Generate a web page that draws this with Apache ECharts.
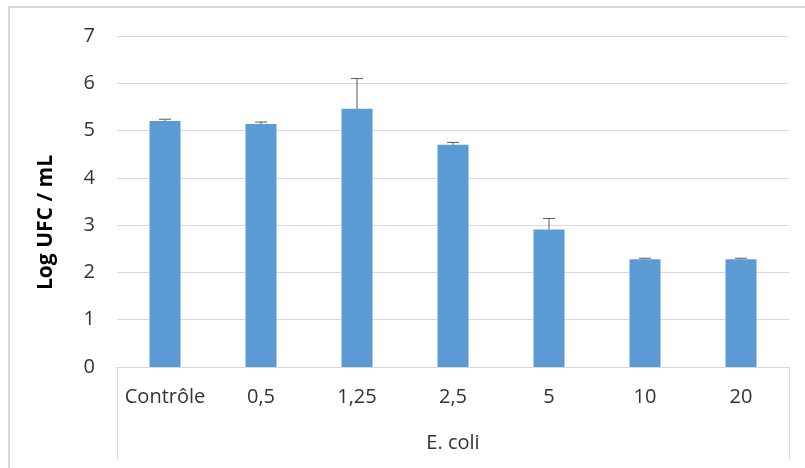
<!DOCTYPE html>
<html>
<head>
<meta charset="utf-8">
<script src="https://cdn.jsdelivr.net/npm/echarts@6/dist/echarts.min.js"></script>
<style>
html,body{margin:0;padding:0;background:#fff;}
#chart{width:805px;height:468px;}
</style>
</head>
<body>
<div id="chart"></div>
<script>
const categories = ['Contrôle', '0,5', '1,25', '2,5', '5', '10', '20'];
const groupLabels = ['E. coli'];
const values = [5.20, 5.14, 5.46, 4.70, 2.91, 2.28, 2.28];
const errors = [0.04, 0.04, 0.64, 0.05, 0.23, 0.02, 0.02];
const yTicks = [0, 1, 2, 3, 4, 5, 6, 7];
const yTitle = 'Log UFC / mL';

const FONT = 'Open Sans';
const chart = echarts.init(document.getElementById('chart'));
chart.setOption({
  animation: false,
  backgroundColor: '#fff',
  graphic: [{
    type: 'rect', silent: true,
    shape: {x: 9, y: 7, width: 820, height: 480},
    style: {fill: 'none', stroke: '#d9d9d9', lineWidth: 2}
  }],
  grid: {left: 117, right: 16, top: 36, bottom: 101, containLabel: false},
  xAxis: [{
    type: 'category',
    data: categories,
    position: 'bottom',
    axisLine: {show: true, lineStyle: {color: '#d9d9d9', width: 1}},
    axisTick: {show: false},
    axisLabel: {color: '#333333', fontFamily: FONT, fontSize: 20, margin: 20, interval: 0}
  }, {
    type: 'category',
    data: groupLabels,
    position: 'bottom',
    axisLine: {show: false},
    axisTick: {show: true, length: 92, lineStyle: {color: '#d9d9d9', width: 1}},
    axisLabel: {color: '#333333', fontFamily: FONT, fontSize: 20, margin: 66},
    splitLine: {show: false}
  }],
  yAxis: {
    type: 'value',
    min: yTicks[0], max: yTicks[yTicks.length - 1], interval: 1,
    name: yTitle,
    nameLocation: 'middle',
    nameGap: 60,
    nameTextStyle: {color: '#000', fontFamily: FONT, fontSize: 21, fontWeight: 'bold', padding: [0, 42, 0, 0]},
    axisLine: {show: false},
    axisTick: {show: false},
    axisLabel: {color: '#333333', fontFamily: FONT, fontSize: 20, margin: 22},
    splitLine: {lineStyle: {color: '#d9d9d9', width: 1}}
  },
  series: [{
    type: 'bar',
    data: values,
    barWidth: 31,
    itemStyle: {color: '#5b9bd5'},
    xAxisIndex: 0
  }, {
    type: 'custom',
    xAxisIndex: 0,
    data: values.map((v, i) => [i, v, errors[i]]),
    renderItem: function (params, api) {
      const x = api.value(0);
      const base = api.coord([x, api.value(1)]);
      const top = api.coord([x, api.value(1) + api.value(2)]);
      const hw = 6;
      const style = {stroke: '#595959', lineWidth: 1};
      return {
        type: 'group',
        children: [
          {type: 'line', shape: {x1: base[0], y1: base[1], x2: top[0], y2: top[1]}, style: style},
          {type: 'line', shape: {x1: top[0] - hw, y1: top[1], x2: top[0] + hw, y2: top[1]}, style: style}
        ]
      };
    },
    z: 5
  }]
});
</script>
</body>
</html>
